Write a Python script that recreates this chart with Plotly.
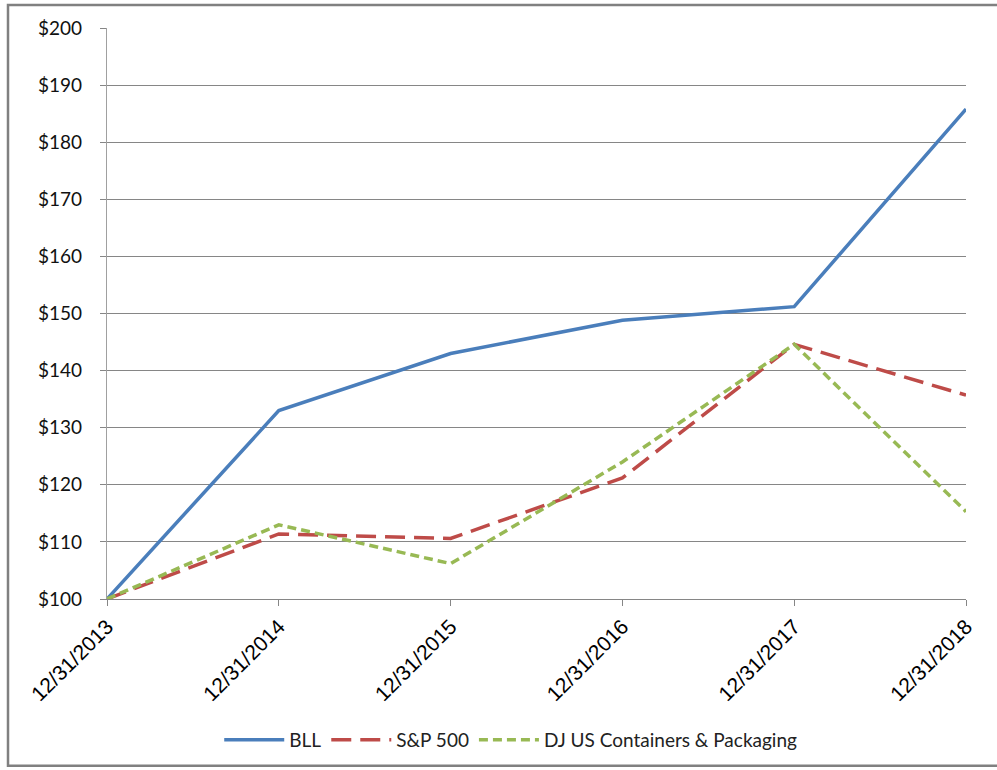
import plotly.graph_objects as go

dates = ["12/31/2013", "12/31/2014", "12/31/2015", "12/31/2016", "12/31/2017", "12/31/2018"]
bll = [100, 133.0, 143.0, 148.8, 151.2, 185.8]
sp500 = [100, 111.4, 110.6, 121.2, 144.6, 135.7]
dj_pack = [100, 113.0, 106.2, 124.0, 144.6, 115.3]

fig = go.Figure()
fig.add_trace(go.Scatter(x=dates, y=bll, name="BLL", mode="lines",
                         line=dict(color="#4A7EBB", width=3.5)))
fig.add_trace(go.Scatter(x=dates, y=sp500, name="S&P 500", mode="lines",
                         line=dict(color="#BE4B48", width=3.5, dash="20px,9px")))
fig.add_trace(go.Scatter(x=dates, y=dj_pack, name="DJ US Containers & Packaging", mode="lines",
                         line=dict(color="#98B954", width=3.5, dash="9px,5px")))

L, R, T, B = 107, 31, 28, 170
pw, ph = 997 - L - R, 770 - T - B

def px(x):
    return (x - L) / pw

def py(y):
    return (770 - B - y) / ph

fig.add_shape(type="rect", xref="paper", yref="paper",
              x0=px(8), x1=px(1020), y0=py(767), y1=py(5),
              line=dict(color="#808080", width=2.5), layer="below")

fig.update_layout(
    width=997, height=770,
    margin=dict(l=L, r=R, t=T, b=B),
    paper_bgcolor="white", plot_bgcolor="white",
    showlegend=True,
    legend=dict(orientation="h", x=0.47, xanchor="center", y=py(740), yanchor="middle",
                font=dict(family="Lato", size=19, color="#222"),
                itemwidth=60, tracegroupgap=0, bgcolor="rgba(0,0,0,0)"),
    xaxis=dict(type="category", range=[0, 5], showgrid=False,
               showline=True, linecolor="#868686", linewidth=1.2,
               ticks="outside", ticklen=6, tickcolor="#868686",
               tickangle=-45, tickfont=dict(family="Liberation Sans", size=21, color="black")),
    yaxis=dict(range=[100, 200], dtick=10, tickprefix="$",
               showgrid=True, gridcolor="#868686", gridwidth=1.2,
               showline=True, linecolor="#A0A0A0", linewidth=1.2,
               ticks="outside", ticklen=6, tickcolor="#868686",
               ticklabelstandoff=14,
               zeroline=False,
               tickfont=dict(family="Lato", size=19, color="#111")),
)

fig.write_html("out.html")
